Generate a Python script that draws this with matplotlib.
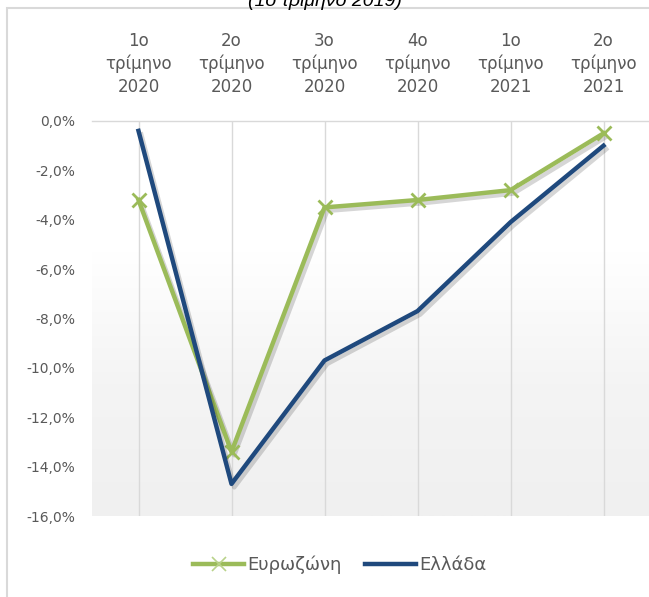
#!/usr/bin/env python3
"""Quarterly GDP change: Eurozone vs Greece (2020-2021)."""

import matplotlib
matplotlib.use("Agg")
import matplotlib.pyplot as plt
import matplotlib.patheffects as pe
import matplotlib.ticker as ticker
from matplotlib.colors import LinearSegmentedColormap
from matplotlib.lines import Line2D
from matplotlib.patches import Rectangle
import numpy as np

QUARTERS = [
    "1ο\nτρίμηνο\n2020",
    "2ο\nτρίμηνο\n2020",
    "3ο\nτρίμηνο\n2020",
    "4ο\nτρίμηνο\n2020",
    "1ο\nτρίμηνο\n2021",
    "2ο\nτρίμηνο\n2021",
]
EUROZONE = [-3.2, -13.4, -3.5, -3.2, -2.8, -0.5]
GREECE = [-0.4, -14.7, -9.7, -7.7, -4.1, -1.0]
SERIES_NAMES = ["Ευρωζώνη", "Ελλάδα"]
TITLE = "(1ο τρίμηνο 2019)"

GREEN = "#9bbb59"
BLUE = "#1f497d"
TEXT = "#595959"
GRID = "#d9d9d9"

plt.rcParams["font.family"] = ["DejaVu Sans"]

W, H = 649, 597
fig = plt.figure(figsize=(W / 100, H / 100), dpi=100)
fig.patch.set_facecolor("white")

# outer chart frame (only top/left visible)
fig.add_artist(Rectangle((7 / W, -0.05), 1.2, 1 - 8 / H + 0.05,
                         transform=fig.transFigure, fill=False,
                         edgecolor=GRID, linewidth=1.5))

# title sits partly above the picture, as in the source
fig.text(325 / W, 1 - 1 / H, TITLE, ha="center", va="center",
         fontsize=14, style="italic", family="Liberation Sans", color="black")

ax = fig.add_axes([92 / W, 81 / H, 558 / W, 395 / H])

# soft vertical gradient in the plot area
grad = np.linspace(0, 1, 256).reshape(-1, 1)
cmap = LinearSegmentedColormap.from_list("bg", ["#f0f0f0", "#f4f4f4", "#ffffff", "#ffffff"])
ax.imshow(grad, extent=[0, 1, 0, 1], transform=ax.transAxes, aspect="auto",
          cmap=cmap, origin="lower", zorder=0)

x = np.arange(len(QUARTERS))
shadow = [pe.SimpleLineShadow(offset=(2, -2.5), alpha=0.16, shadow_color="black"), pe.Normal()]
ax.plot(x, EUROZONE, color=GREEN, linewidth=3.2, zorder=3, path_effects=shadow)
ax.plot(x, EUROZONE, color=GREEN, linestyle="none", marker="x", markersize=10,
        markeredgewidth=2.0, zorder=3)
ax.plot(x, GREECE, color=BLUE, linewidth=3.2, zorder=4, path_effects=shadow)

for xi in x:
    ax.axvline(xi, color=GRID, linewidth=1.0, zorder=1)

ax.set_xlim(-0.5, len(QUARTERS) - 0.5)
ax.set_ylim(-16, 0)
ax.xaxis.tick_top()
ax.set_xticks(x)
ax.set_xticklabels(QUARTERS, fontsize=12, color=TEXT, linespacing=1.35)
ax.set_yticks(np.arange(-16, 0.1, 2))
ax.yaxis.set_major_formatter(ticker.FuncFormatter(lambda v, _: f"{v:.1f}%".replace(".", ",")))
ax.tick_params(axis="x", length=0, pad=18)
ax.tick_params(axis="y", length=0, pad=12, labelsize=10, labelcolor=TEXT)

for side in ["left", "right", "bottom"]:
    ax.spines[side].set_visible(False)
ax.spines["top"].set_color(GRID)
ax.spines["top"].set_linewidth(1.0)

handles = [
    Line2D([], [], color=GREEN, linewidth=3.2, marker="x", markersize=10,
           markeredgewidth=1.2, markeredgecolor="#b9d28a"),
    Line2D([], [], color=BLUE, linewidth=3.2),
]
fig.legend(handles, SERIES_NAMES, loc="center", bbox_to_anchor=(340 / W, 1 - 565 / H),
           ncol=2, frameon=False, fontsize=13, handlelength=2.8, columnspacing=1.3,
           handletextpad=0.2, labelcolor=TEXT)

fig.savefig("out.png", dpi=100, facecolor="white")
